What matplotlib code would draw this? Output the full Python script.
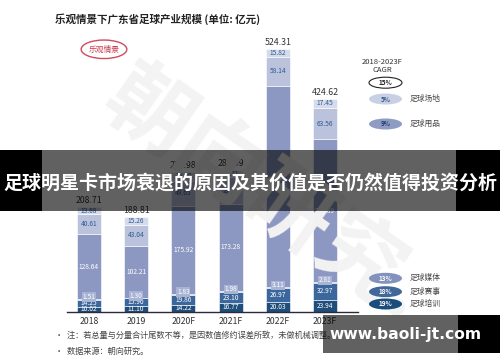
import matplotlib
matplotlib.use('Agg')
import matplotlib.pyplot as plt
from matplotlib.patches import Ellipse, Rectangle
import numpy as np

plt.rcParams['font.family'] = ['Noto Sans CJK SC', 'DejaVu Sans']

# data (亿元)
years = ['2018', '2019', '2020F', '2021F', '2022F', '2023F']
peixun = [10.02, 11.10, 14.22, 16.77, 20.03, 23.94]      # 足球培训
saishi = [14.25, 15.90, 19.86, 23.10, 26.97, 32.97]      # 足球赛事
meiti = [1.51, 1.30, 1.83, 1.98, 3.11, 2.81]             # 足球媒体
qita = [128.64, 102.21, 175.92, 173.28, 400.23, 283.89]  # 其他
yongpin = [40.61, 43.04, 49.65, 53.25, 58.14, 63.56]     # 足球用品
changdi = [13.68, 15.26, 16.50, 13.71, 15.82, 17.45]     # 足球场地
totals = [208.71, 188.81, 277.98, 282.09, 524.31, 424.62]

cagr_labels = ['15%', '5%', '9%', '13%', '18%', '19%']
cagr_names = ['', '足球场地', '足球用品', '足球媒体', '足球赛事', '足球培训']

W, H = 500, 362


def fx(x):
    return x / W


def fy(y):
    return 1 - y / H


fig = plt.figure(figsize=(5, 3.62), dpi=100)
fig.patch.set_facecolor('white')

# faint watermark
fig.text(fx(265), fy(195), '朝向研究.', fontsize=62, color='#f3f3f3', fontweight='bold',
         rotation=-35, ha='center', va='center', zorder=0)

ax = fig.add_axes([fx(67), fy(311.7), 291 / W, (311.7 - 31) / H])
ax.set_facecolor('none')
ax.set_xlim(-0.466, 5.70)
ax.set_ylim(0, 560)

x = np.arange(len(years))
series = [peixun, saishi, meiti, qita, yongpin, changdi]
colors = ['#1f4e7a', '#3b679c', '#9ba6ca', '#8c98c2', '#bac2dc', '#d5dbeb']
txtcol = ['white', 'white', 'white', 'white', '#2f5b92', '#2f5b92']
bottom = np.zeros(len(years))
for i, s in enumerate(series):
    s = np.array(s)
    ax.bar(x, s, 0.51, bottom=bottom, color=colors[i], edgecolor='white', linewidth=0.4, zorder=2)
    for j in range(len(years)):
        yc = bottom[j] + s[j] / 2
        if i == 2:
            ax.text(x[j], yc + 4, '%.2f' % s[j], ha='center', va='center', fontsize=4.8,
                    color='white', zorder=3,
                    bbox=dict(boxstyle='square,pad=0.1', fc='#a9b3d3', ec='none'))
        else:
            ax.text(x[j], yc, '%.2f' % s[j], ha='center', va='center', fontsize=4.8,
                    color=txtcol[i], zorder=3)
    bottom = bottom + s

for j, t in enumerate(totals):
    ax.text(x[j], bottom[j] + 4, '%.2f' % t, ha='center', va='bottom', fontsize=6.3,
            color='#333333', zorder=3)

for sp in ['top', 'right', 'left']:
    ax.spines[sp].set_visible(False)
ax.spines['bottom'].set_color('#2a2a3a')
ax.spines['bottom'].set_linewidth(1.0)
ax.set_yticks([])
ax.set_xticks(x)
ax.set_xticklabels(years, fontsize=6.3, color='#333333')
ax.tick_params(axis='x', length=0, pad=4)

# title
fig.text(fx(55), fy(19.5), '乐观情景下广东省足球产业规模 (单位: 亿元)', fontsize=7.6,
         fontweight='bold', color='#222222', ha='left', va='center')

fig.patches.append(Ellipse((fx(104), fy(49.3)), 45.7 / W, 18.5 / H, transform=fig.transFigure,
                           fc='white', ec='#cf4a5c', lw=1.0))
fig.text(fx(104), fy(49.3), '乐观情景', fontsize=5.6, color='#c73a4f', ha='center', va='center')

# CAGR legend
fig.text(fx(382), fy(61.7), '2018-2023F', fontsize=5.5, color='#333333', ha='center', va='center')
fig.text(fx(382), fy(70.3), 'CAGR', fontsize=5.5, color='#333333', ha='center', va='center')
leg_y = [82.7, 99, 124, 278.3, 291.7, 304]
leg_fc = ['white', '#c9d0e4', '#8e9bc3', '#8391bd', '#41679b', '#1b4d7c']
leg_tc = ['#222222', '#2f5b92', '#1f3f6e', 'white', 'white', 'white']
for k in range(len(cagr_labels)):
    fig.patches.append(Ellipse((fx(385.5), fy(leg_y[k])), 33 / W, 11 / H, transform=fig.transFigure,
                               fc=leg_fc[k], ec='#222222' if k == 0 else 'none', lw=0.8))
    fig.text(fx(385.5), fy(leg_y[k]), cagr_labels[k], fontsize=4.6, fontweight='bold',
             color=leg_tc[k], ha='center', va='center')
    if cagr_names[k]:
        fig.text(fx(410), fy(leg_y[k]), cagr_names[k], fontsize=5.6, color='#444444',
                 ha='left', va='center')

# notes
fig.text(fx(55), fy(335.5), '•  注：若总量与分量合计尾数不等，是因数值修约误差所致，未做机械调整。',
         fontsize=5.9, color='#444444', ha='left', va='center')
fig.text(fx(55), fy(351), '•  数据来源：朝向研究。', fontsize=5.9, color='#444444',
         ha='left', va='center')

# headline banner
fig.patches.append(Rectangle((0, fy(211)), fx(42), 61 / H, transform=fig.transFigure,
                             fc='black', ec='none', zorder=5))
fig.patches.append(Rectangle((fx(456), fy(211)), fx(44), 61 / H, transform=fig.transFigure,
                             fc='black', ec='none', zorder=5))
fig.patches.append(Rectangle((fx(42), fy(211)), 414 / W, 61 / H, transform=fig.transFigure,
                             fc='black', alpha=0.62, ec='none', zorder=5))
fig.text(0.5, fy(183), '足球明星卡市场衰退的原因及其价值是否仍然值得投资分析', fontsize=13.7,
         fontweight='bold', color='white', ha='center', va='center', zorder=6)

# site mark
fig.patches.append(Rectangle((fx(323), fy(352.7)), 135 / W, 37.7 / H, transform=fig.transFigure,
                             fc='black', alpha=0.62, ec='none', zorder=5))
fig.patches.append(Rectangle((fx(458), fy(352.7)), 42 / W, 37.7 / H, transform=fig.transFigure,
                             fc='black', ec='none', zorder=5))
fig.text(fx(406), fy(334.5), 'www.baoli-jt.com', fontsize=11.2, fontweight='bold', color='white',
         ha='center', va='center', zorder=6, family=['DejaVu Sans'])

fig.savefig('out.png', dpi=100)
